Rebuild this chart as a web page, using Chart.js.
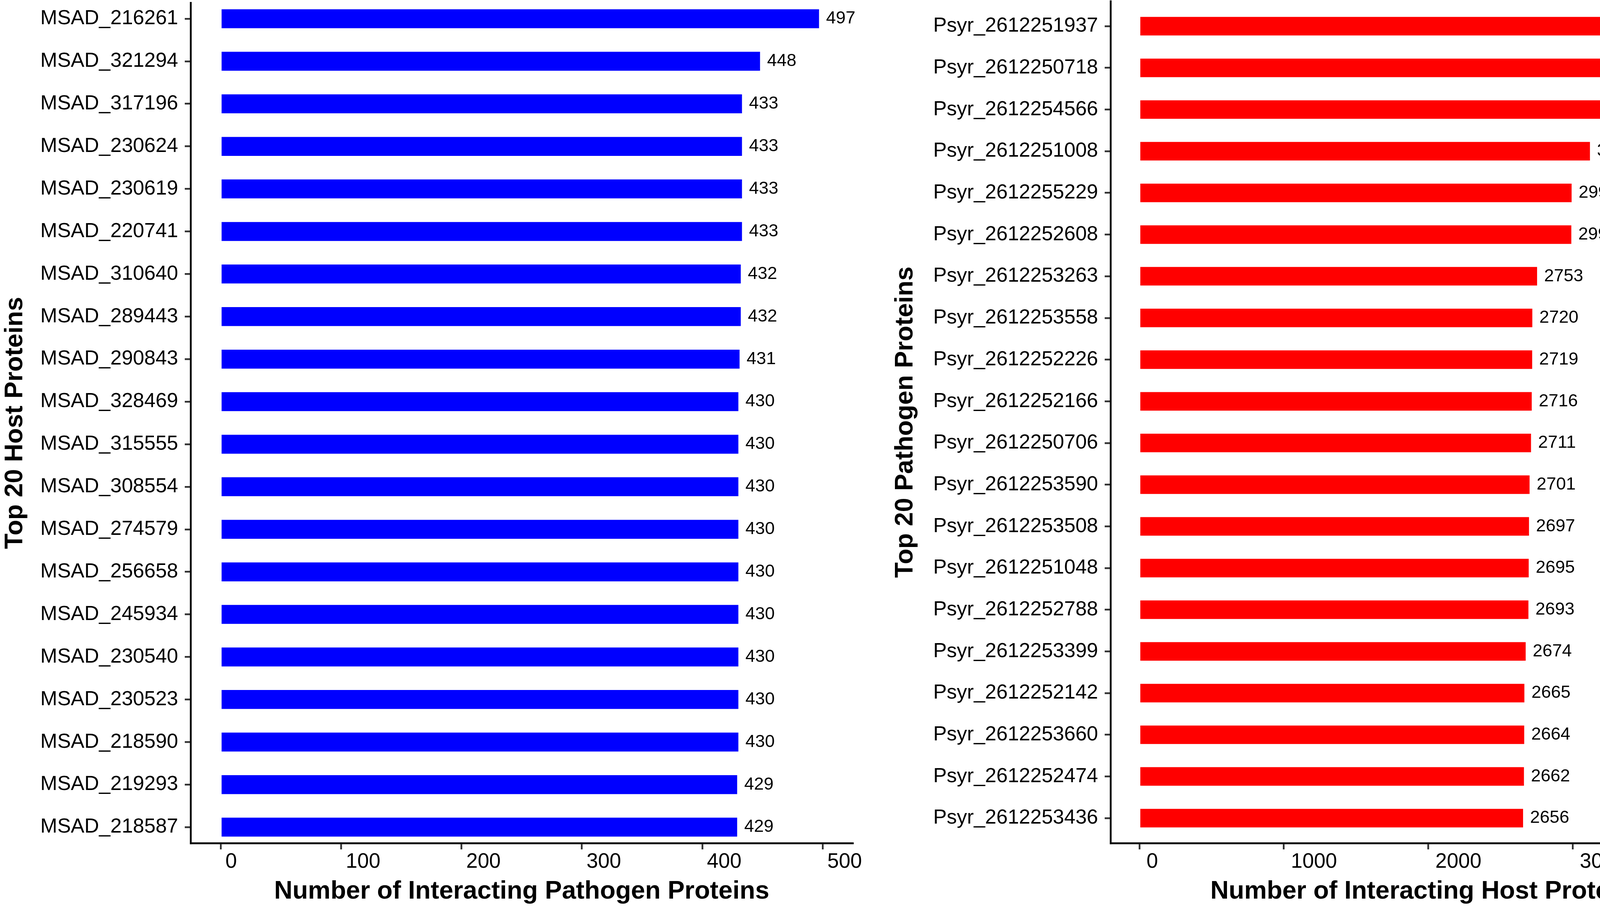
<!DOCTYPE html>
<html>
<head>
<meta charset="utf-8">
<script src="https://cdn.jsdelivr.net/npm/chart.js@4.4.1/dist/chart.umd.min.js"></script>
<style>
  html, body { margin: 0; padding: 0; background: #ffffff; }
  body { width: 4550px; height: 2324px; position: relative; overflow: hidden; }
  #wrapL { position: absolute; left: 0; top: 0; width: 2250px; height: 2324px; }
  #wrapR { position: absolute; left: 2250px; top: 0; width: 2300px; height: 2324px; }
</style>
</head>
<body>
<div id="wrapL"><canvas id="left" width="2250" height="2324"></canvas></div>
<div id="wrapR"><canvas id="right" width="2300" height="2324"></canvas></div>
<script>
// ---------- DATA ----------
const hostProteins = ["MSAD_216261","MSAD_321294","MSAD_317196","MSAD_230624","MSAD_230619","MSAD_220741","MSAD_310640","MSAD_289443","MSAD_290843","MSAD_328469","MSAD_315555","MSAD_308554","MSAD_274579","MSAD_256658","MSAD_245934","MSAD_230540","MSAD_230523","MSAD_218590","MSAD_219293","MSAD_218587"];
const hostCounts = [497,448,433,433,433,433,432,432,431,430,430,430,430,430,430,430,430,430,429,429];
const hostTicks = [0,100,200,300,400,500];

const pathogenProteins = ["Psyr_2612251937","Psyr_2612250718","Psyr_2612254566","Psyr_2612251008","Psyr_2612255229","Psyr_2612252608","Psyr_2612253263","Psyr_2612253558","Psyr_2612252226","Psyr_2612252166","Psyr_2612250706","Psyr_2612253590","Psyr_2612253508","Psyr_2612251048","Psyr_2612252788","Psyr_2612253399","Psyr_2612252142","Psyr_2612253660","Psyr_2612252474","Psyr_2612253436"];
const pathogenCounts = [3750,3455,3288,3119,2992,2990,2753,2720,2719,2716,2711,2701,2697,2695,2693,2674,2665,2664,2662,2656];
const pathogenTicks = [0,1000,2000,3000,4000];

// ---------- STYLE ----------
const FONT = "'Liberation Sans', Arial, Helvetica, sans-serif";

const valueLabels = {
  id: 'valueLabels',
  afterDatasetsDraw(chart, args, opts) {
    const ctx = chart.ctx;
    const meta = chart.getDatasetMeta(0);
    ctx.save();
    ctx.font = opts.size + 'px ' + FONT;
    ctx.fillStyle = '#000000';
    ctx.textAlign = 'left';
    ctx.textBaseline = 'middle';
    meta.data.forEach((bar, i) => {
      const v = chart.data.datasets[0].data[i].x;
      ctx.fillText(String(v), bar.x + opts.gap, bar.y);
    });
    ctx.restore();
  }
};

function makeChart(id, cfg) {
  const labels = cfg.labels;
  const data = cfg.values.map((v, i) => ({ x: v, y: i }));
  return new Chart(document.getElementById(id), {
    type: 'bar',
    data: {
      datasets: [{
        data: data,
        backgroundColor: cfg.color,
        borderWidth: 0,
        barPercentage: 0.445,
        categoryPercentage: 1.0
      }]
    },
    plugins: [valueLabels],
    options: {
      indexAxis: 'y',
      responsive: false,
      animation: false,
      devicePixelRatio: 1,
      layout: { padding: { top: cfg.padTop, right: cfg.padRight, bottom: 0, left: 0 } },
      plugins: {
        legend: { display: false },
        tooltip: { enabled: false },
        valueLabels: { size: 45, gap: 18 }
      },
      scales: {
        x: {
          type: 'linear',
          position: 'bottom',
          min: cfg.xMin,
          max: cfg.xMax,
          offset: false,
          afterBuildTicks: (s) => { s.ticks = cfg.ticks.map(v => ({ value: v })); },
          afterFit: (s) => { s.height = 166; s.paddingLeft = 0; s.paddingRight = 0; },
          grid: { display: true, offset: false, drawOnChartArea: false, drawTicks: true, tickLength: 16, tickColor: '#333333', tickWidth: 4.5, lineWidth: 4.5 },
          border: { display: true, color: '#000000', width: 4.7 },
          ticks: {
            color: '#000000',
            font: { family: FONT, size: 53 },
            padding: 1,
            align: 'start',
            labelOffset: cfg.labelOffset,
            maxRotation: 0,
            autoSkip: false,
            callback: (v) => String(v)
          },
          title: {
            display: true,
            text: cfg.xTitle,
            color: '#000000',
            font: { family: FONT, size: 65, weight: 'bold' },
            padding: { top: 0, bottom: 3 }
          }
        },
        y: {
          type: 'linear',
          position: 'left',
          reverse: true,
          offset: false,
          min: -cfg.expand,
          max: labels.length - 1 + cfg.expand,
          afterBuildTicks: (s) => { s.ticks = labels.map((l, i) => ({ value: i })); },
          afterFit: (s) => { s.width = cfg.yWidth; s.paddingTop = 0; s.paddingBottom = 0; },
          grid: { display: true, offset: false, drawOnChartArea: false, drawTicks: true, tickLength: 15, tickColor: '#333333', tickWidth: 4.5, lineWidth: 4.5 },
          border: { display: true, color: '#000000', width: 4.7 },
          ticks: {
            color: '#000000',
            font: { family: FONT, size: 52 },
            padding: 17,
            autoSkip: false,
            callback: (v) => labels[v]
          },
          title: {
            display: true,
            text: cfg.yTitle,
            color: '#000000',
            font: { family: FONT, size: 65, weight: 'bold' },
            padding: { top: cfg.yTitlePad, bottom: 0 }
          }
        }
      }
    }
  });
}

makeChart('left', {
  labels: hostProteins, values: hostCounts, ticks: hostTicks, color: '#0000FF',
  xMin: -25, xMax: 525, expand: 0.376, padTop: 7, padRight: 67, yWidth: 488,
  labelOffset: 12, yTitlePad: 0,
  xTitle: 'Number of Interacting Pathogen Proteins', yTitle: 'Top 20 Host Proteins'
});

makeChart('right', {
  labels: pathogenProteins, values: pathogenCounts, ticks: pathogenTicks, color: '#FF0000',
  xMin: -200, xMax: 4200, expand: 0.6, padTop: 3, padRight: 80, yWidth: 593,
  labelOffset: 18, yTitlePad: 29,
  xTitle: 'Number of Interacting Host Proteins', yTitle: 'Top 20 Pathogen Proteins'
});
</script>
</body>
</html>
